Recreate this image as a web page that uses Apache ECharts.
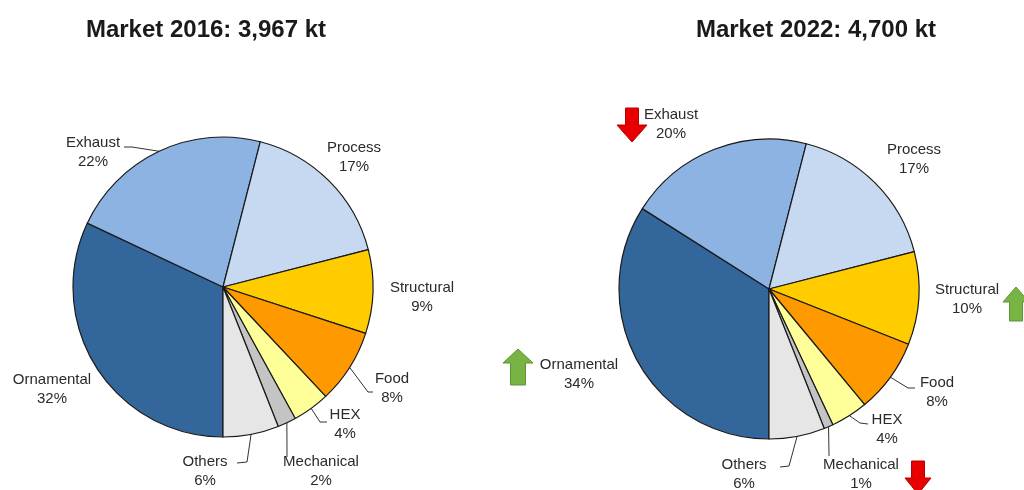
<!DOCTYPE html>
<html>
<head>
<meta charset="utf-8">
<script src="https://cdn.jsdelivr.net/npm/echarts@6/dist/echarts.min.js"></script>
<style>
  html, body { margin: 0; padding: 0; background: #fff; }
  #main { width: 1024px; height: 490px; }
</style>
</head>
<body>
<div id="main"></div>
<script>
// 市场份额数据（%）
const categories = ['Ornamental', 'Exhaust', 'Process', 'Structural', 'Food', 'HEX', 'Mechanical', 'Others'];
const share2016 = [32, 22, 17, 9, 8, 4, 2, 6];
const share2022 = [34, 20, 17, 10, 8, 4, 1, 6];
const marketTitles = ['Market 2016: 3,967 kt', 'Market 2022: 4,700 kt'];
// 2022 相对 2016 的变化趋势
const trend2022 = ['up', 'down', '', 'up', '', '', 'down', ''];

const sliceColors = ['#33679B', '#8DB3E2', '#C6D9F1', '#FFCC00', '#FF9900', '#FFFF99', '#C4C4C4', '#E6E6E6'];

// 布局
const pieCenters = [[223, 287], [769, 289]];
const titleX = [206, 816];
const labelPos = [
  [[52, 389], [93, 152], [354, 157], [422, 297], [392, 388], [345, 424], [321, 471], [205, 471]],
  [[579, 374], [671, 124], [914, 159], [967, 299], [937, 392], [887, 429], [861, 474], [744, 474]]
];
// 引导线拐点、终点，没有的不画线
const leaderPts = [
  { 1: [[132, 147], [124, 147]], 4: [[368, 392], [373, 392]], 5: [[320, 422], [327, 422]], 6: [[287, 456], [287, 457]], 7: [[247, 462], [237, 463]] },
  { 4: [[908, 388], [915, 388]], 5: [[860, 423], [868, 424]], 6: [[829, 455], [829, 456]], 7: [[789, 466], [780, 467]] }
];
// 箭头位置（按类别下标）
const arrowLayout = {
  0: { cx: 518, top: 349, bottom: 385, head: 14, hw: 15, sw: 7.5 },
  1: { cx: 632, top: 108, bottom: 142, head: 17, hw: 15, sw: 6.5 },
  3: { cx: 1016, top: 287, bottom: 321, head: 15, hw: 13, sw: 6.5 },
  6: { cx: 918, top: 461, bottom: 494, head: 16, hw: 13, sw: 6.5 }
};

function buildData(values, chartIdx) {
  return categories.map((name, i) => ({
    name: name,
    value: values[i],
    labelLine: { show: !!leaderPts[chartIdx][i] }
  }));
}

function arrowShape(a, dir) {
  let pts;
  if (dir === 'up') {
    const hb = a.top + a.head;
    pts = [[a.cx, a.top], [a.cx + a.hw, hb], [a.cx + a.sw, hb], [a.cx + a.sw, a.bottom],
      [a.cx - a.sw, a.bottom], [a.cx - a.sw, hb], [a.cx - a.hw, hb]];
  } else {
    const hb = a.bottom - a.head;
    pts = [[a.cx, a.bottom], [a.cx + a.hw, hb], [a.cx + a.sw, hb], [a.cx + a.sw, a.top],
      [a.cx - a.sw, a.top], [a.cx - a.sw, hb], [a.cx - a.hw, hb]];
  }
  return {
    type: 'polygon',
    shape: { points: pts },
    style: dir === 'up'
      ? { fill: '#77B443', stroke: '#5E9433', lineWidth: 1 }
      : { fill: '#E60000', stroke: '#B80000', lineWidth: 1 },
    silent: true
  };
}

const arrows = [];
trend2022.forEach((t, i) => {
  if (t && arrowLayout[i]) arrows.push(arrowShape(arrowLayout[i], t));
});

function makeSeries(values, idx) {
  return {
    type: 'pie',
    center: pieCenters[idx],
    radius: 150,
    startAngle: 270,
    clockwise: true,
    animation: false,
    emphasis: { disabled: true },
    data: buildData(values, idx),
    itemStyle: { borderColor: '#1a1a1a', borderWidth: 1.2 },
    label: {
      show: true,
      formatter: '{b}\n{c}%',
      fontFamily: 'Liberation Sans, Arial, sans-serif',
      fontSize: 15,
      lineHeight: 19,
      color: '#2b2b2b',
      overflow: 'none'
    },
    labelLine: {
      show: true,
      lineStyle: { color: '#333', width: 1 }
    },
    labelLayout: function (params) {
      const i = params.dataIndex;
      const p = labelPos[idx][i];
      const res = { x: p[0], y: p[1], align: 'center', verticalAlign: 'middle' };
      const extra = leaderPts[idx][i];
      if (extra) {
        let start = params.labelLinePoints && params.labelLinePoints[0];
        if (!start) {
          // 兜底：按扇区中间角度算饼图边缘点
          const total = values.reduce((s, v) => s + v, 0);
          let acc = 0;
          for (let k = 0; k < i; k++) acc += values[k];
          const th = (acc + values[i] / 2) / total * Math.PI * 2;
          start = [pieCenters[idx][0] - 150 * Math.sin(th), pieCenters[idx][1] + 150 * Math.cos(th)];
        }
        res.labelLinePoints = [start, extra[0], extra[1]];
      }
      return res;
    }
  };
}

const chart = echarts.init(document.getElementById('main'));
chart.setOption({
  backgroundColor: '#fff',
  color: sliceColors,
  title: marketTitles.map((t, i) => ({
    text: t,
    left: titleX[i],
    top: 18,
    padding: 0,
    textAlign: 'center',
    textStyle: {
      fontFamily: 'Liberation Sans, Arial, sans-serif',
      fontSize: 24,
      fontWeight: 'bold',
      color: '#1a1a1a'
    }
  })),
  series: [makeSeries(share2016, 0), makeSeries(share2022, 1)],
  graphic: arrows
});
</script>
</body>
</html>
